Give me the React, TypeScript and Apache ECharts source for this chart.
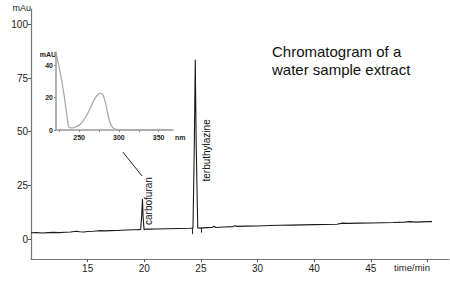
import React, { useEffect, useRef } from "react";
import * as echarts from "echarts";

// Main chromatogram (time in min, absorbance in mAu)
const time = [10, 10.5, 11, 11.5, 12, 12.5, 13, 13.5, 14, 14.3, 14.7, 15, 15.5, 16, 16.5, 17, 17.5, 18, 18.5, 19, 19.5, 19.68, 19.76, 19.84, 19.9, 19.98, 20.1, 20.5, 21, 22, 23, 24, 24.3, 24.42, 24.5, 24.58, 24.72, 25, 25.5, 26, 26.15, 26.3, 27, 27.8, 28, 28.2, 29, 30, 31, 32, 33, 34, 35, 36, 37, 37.5, 38, 39, 40, 41, 42, 43, 43.5, 44, 45, 45.4];
const absorbance = [2.9, 3.0, 2.8, 3.0, 3.1, 3.0, 3.2, 3.3, 3.6, 3.4, 3.3, 3.5, 3.6, 3.9, 3.8, 3.9, 4.0, 4.1, 4.2, 4.3, 4.4, 4.5, 10, 18.6, 10, 4.4, 4.6, 4.6, 4.7, 4.8, 4.9, 5.0, 5.1, 45, 83.5, 45, 5.2, 5.1, 5.3, 5.4, 6.0, 5.4, 5.6, 5.8, 6.2, 5.9, 6.0, 6.1, 6.3, 6.4, 6.5, 6.6, 6.7, 6.8, 6.9, 7.4, 7.3, 7.4, 7.5, 7.6, 7.7, 7.9, 8.1, 7.9, 8.1, 8.1];

const xTickValues = [15, 20, 25, 30, 35, 40];
const xTickLabels = ["15", "20", "25", "30", "40", "45"];
const xTickMarks = [15, 20, 25, 30, 35, 40, 45];
const yTickValues = [0, 25, 50, 75, 100];

const peakNames = ["carbofuran", "terbuthylazine"];
const peakLabelTimes = [20.35, 25.45];
const peakLabelValues = [17.7, 41.3];

// integration markers: [time, top, bottom]
const integrationMarks = [
  [24.27, 5.3, 2.3],
  [25.0, 5.3, 3.0],
];
// pointer from inset to carbofuran peak: [t1, v1, t2, v2]
const pointer = [18.1, 40.6, 19.8, 29.4];

// Inset UV spectrum (nm, mAU)
const wavelength = [221, 223, 225, 227, 229, 231, 233, 235, 236.5, 238, 240, 243, 246, 250, 255, 260, 265, 270, 274, 277, 280, 283, 286, 289, 292, 295, 300, 310, 320, 340, 365];
const uvAbsorbance = [47.5, 43, 38.5, 33.5, 28, 22, 15, 8, 2.5, 1.5, 1.3, 1.5, 2, 3, 5.5, 9.5, 14.5, 19.5, 22, 22.5, 21.5, 17, 10, 4.5, 1.6, 0.6, 0.2, 0, 0, 0, 0];
const uvXTickValues = [250, 300, 350];
const uvXTickMarks = [225, 250, 275, 300, 325, 350];
const uvYTickValues = [0, 20, 40];

const titleLines = ["Chromatogram of a", "water sample extract"];

export default function App() {
  const ref = useRef<HTMLDivElement>(null);
  useEffect(() => {
    if (!ref.current) return;
    const chart = echarts.init(ref.current, null, { renderer: "svg" });
    const font = "Liberation Sans, Arial, sans-serif";
    const data = time.map((t, i) => [t, absorbance[i]]);
    const uvData = wavelength.map((w, i) => [w, uvAbsorbance[i]]);
    chart.setOption({
      animation: false,
      backgroundColor: "#ffffff",
      textStyle: { fontFamily: font },
      grid: [
        { left: 31, right: 1, top: 9, bottom: 23, containLabel: false },
        { left: 56, top: 52, width: 117, height: 78, containLabel: false },
      ],
      xAxis: [
        {
          type: "value",
          gridIndex: 0,
          min: 10,
          max: 46.9,
          splitLine: { show: false },
          axisLine: { onZero: false, lineStyle: { color: "#777", width: 1.2 } },
          axisTick: { show: true, customValues: xTickMarks, length: 3, lineStyle: { color: "#555" } },
          axisLabel: {
            customValues: xTickValues,
            formatter: (v: number) => xTickLabels[xTickValues.indexOf(v)] ?? "",
            color: "#222",
            fontSize: 10,
            margin: 4,
            fontFamily: font,
          },
          name: "time/min",
          nameLocation: "end",
          nameGap: -19,
          nameTextStyle: { align: "right", verticalAlign: "top", padding: [3, 0, 0, 0], fontSize: 9.5, color: "#222", fontFamily: font },
        },
        {
          type: "value",
          gridIndex: 1,
          min: 221,
          max: 368,
          splitLine: { show: false },
          axisLine: { onZero: false, lineStyle: { color: "#999", width: 1.5 } },
          axisTick: { show: true, customValues: uvXTickMarks, length: 2, lineStyle: { color: "#888" } },
          axisLabel: {
            customValues: uvXTickValues,
            color: "#222",
            fontSize: 7,
            fontWeight: "bold",
            margin: 4,
            fontFamily: font,
          },
          name: "nm",
          nameLocation: "end",
          nameGap: 2,
          nameTextStyle: { verticalAlign: "top", padding: [4, 0, 0, 0], fontSize: 7, fontWeight: "bold", color: "#222", fontFamily: font },
        },
      ],
      yAxis: [
        {
          type: "value",
          gridIndex: 0,
          min: -9.3,
          max: 107.2,
          splitLine: { show: false },
          axisLine: { show: true, onZero: false, lineStyle: { color: "#777", width: 1.2 } },
          axisTick: { show: true, customValues: yTickValues, length: 3, lineStyle: { color: "#555" } },
          axisLabel: { customValues: yTickValues, color: "#222", fontSize: 10, margin: 3, fontFamily: font },
          name: "mAu",
          nameLocation: "end",
          nameGap: 1,
          nameTextStyle: { align: "right", verticalAlign: "bottom", padding: [0, 0, -4, 0], fontSize: 9, color: "#222", fontFamily: font },
        },
        {
          type: "value",
          gridIndex: 1,
          min: 0,
          max: 48,
          splitLine: { show: false },
          axisLine: { show: true, onZero: false, lineStyle: { color: "#999", width: 1.5 } },
          axisTick: { show: true, customValues: uvYTickValues, length: 2, lineStyle: { color: "#888" } },
          axisLabel: { customValues: uvYTickValues, color: "#222", fontSize: 7, fontWeight: "bold", margin: 3, fontFamily: font },
          name: "mAU",
          nameLocation: "end",
          nameGap: -2,
          nameTextStyle: { align: "right", verticalAlign: "middle", padding: [0, 0, 0, 0], fontSize: 7, fontWeight: "bold", color: "#222", fontFamily: font },
        },
      ],
      series: [
        {
          type: "line",
          xAxisIndex: 0,
          yAxisIndex: 0,
          data,
          symbol: "none",
          lineStyle: { color: "#1a1a1a", width: 1.1 },
          markPoint: {
            symbol: "circle",
            symbolSize: 0,
            label: {
              show: true,
              position: "inside",
              rotate: 90,
              fontSize: 10,
              color: "#111",
              fontFamily: font,
              formatter: (p: any) => p.name,
            },
            data: peakNames.map((n, i) => ({ name: n, coord: [peakLabelTimes[i], peakLabelValues[i]] })),
          },
          markLine: {
            silent: true,
            symbol: "none",
            label: { show: false },
            lineStyle: { color: "#222", width: 1, type: "solid" },
            data: [
              ...integrationMarks.map((m) => [{ coord: [m[0], m[1]] }, { coord: [m[0], m[2]] }]),
              [{ coord: [pointer[0], pointer[1]] }, { coord: [pointer[2], pointer[3]] }],
            ],
          },
        },
        {
          type: "line",
          xAxisIndex: 1,
          yAxisIndex: 1,
          data: uvData,
          symbol: "none",
          smooth: 0.3,
          lineStyle: { color: "#aaaaaa", width: 1.3 },
        },
      ],
      graphic: [
        {
          type: "text",
          left: 272,
          top: 42,
          style: {
            text: titleLines.join("\n"),
            font: `15px ${font}`,
            lineHeight: 18,
            fill: "#111",
          },
        },
      ],
    });
    return () => chart.dispose();
  }, []);
  return <div ref={ref} style={{ width: 450, height: 282, position: "fixed", left: 0, top: 0 }} />;
}
